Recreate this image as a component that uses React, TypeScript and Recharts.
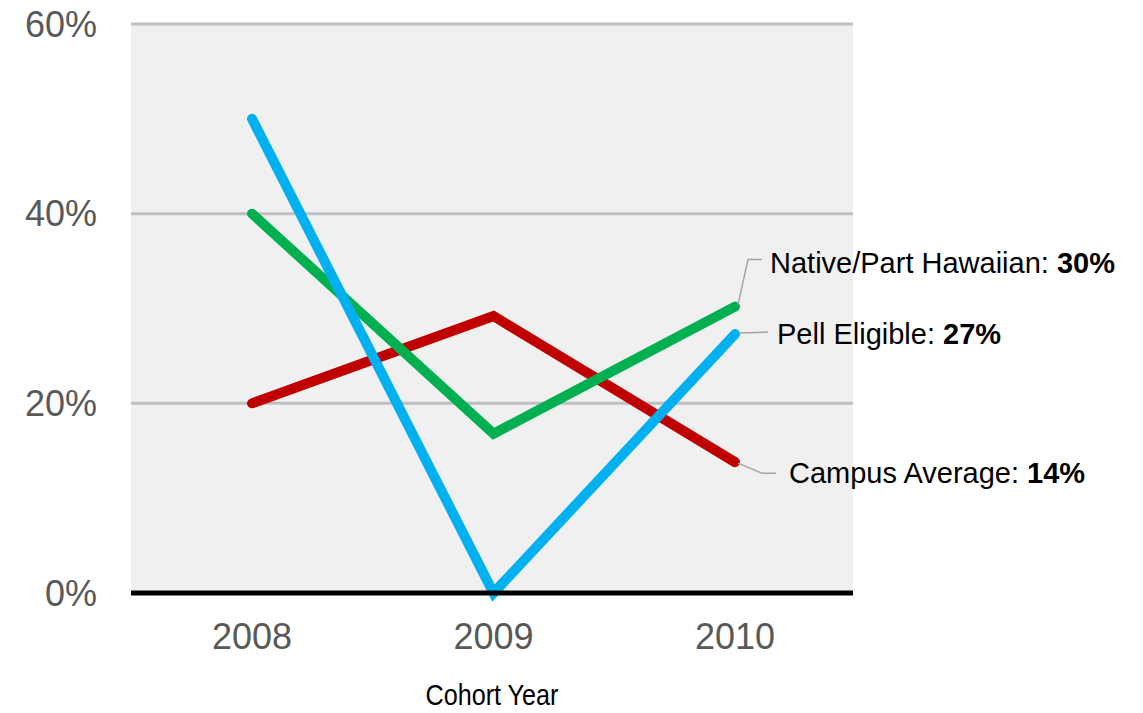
import { LineChart, Line, XAxis, YAxis, CartesianGrid } from 'recharts'

const years = ['2008', '2009', '2010']
const campusAverage = [20, 29.2, 13.8]
const nativeHawaiian = [40, 16.8, 30.2]
const pellEligible = [50, 0, 27.3]
const yTicks = [0, 20, 40, 60]

const data = years.map((year, i) => ({
  year,
  campus: campusAverage[i],
  native: nativeHawaiian[i],
  pell: pellEligible[i],
}))

const FONT = "'Liberation Sans', Arial, sans-serif"

// end-of-line callouts: text offset from last point + leader line path (relative)
const CALLOUTS: Record<string, { name: string; dx: number; dy: number; leader: [number, number][] }> = {
  native: { name: 'Native/Part Hawaiian', dx: 35, dy: -44, leader: [[3, -2], [13, -47], [27, -47]] },
  pell:   { name: 'Pell Eligible',        dx: 42, dy: 0,   leader: [[5, -1], [33, -2]] },
  campus: { name: 'Campus Average',       dx: 54, dy: 11,  leader: [[3, 1], [27, 11], [41, 11]] },
}

function callout(key: string) {
  return (props: any) => {
    const { x, y, index, value } = props
    if (index !== years.length - 1) return <g key={`${key}-${index}`} />
    const c = CALLOUTS[key]
    const pts = c.leader.map(([a, b]) => `${x + a},${y + b}`).join(' ')
    return (
      <g key={`${key}-${index}`}>
        <polyline points={pts} fill="none" stroke="#a6a6a6" strokeWidth={1.5} />
        <text x={x + c.dx} y={y + c.dy} dominantBaseline="central" fontSize={29} fontFamily={FONT} fill="#000">
          {c.name}: <tspan fontWeight="bold">{Math.round(value)}%</tspan>
        </text>
      </g>
    )
  }
}

// axis title drawn slightly condensed, like the original's narrow face
function AxisTitle(props: any) {
  const { viewBox } = props
  const cx = viewBox.x + viewBox.width / 2
  return (
    <text
      transform={`translate(${cx}, 695) scale(0.84, 1)`}
      textAnchor="middle"
      dominantBaseline="central"
      fontSize={30}
      fontFamily={FONT}
      fill="#000"
    >
      Cohort Year
    </text>
  )
}

export default function App() {
  return (
    <div style={{ position: 'absolute', left: 0, top: 0, width: 1143, height: 713, background: '#fff' }}>
      <LineChart width={1143} height={713} data={data} margin={{ top: 24, right: 290, bottom: 0, left: 0 }}>
        <CartesianGrid vertical={false} fill="#f0f0f0" stroke="#bfbfbf" strokeWidth={3} />
        <XAxis
          dataKey="year"
          height={120}
          padding={{ left: 121, right: 118 }}
          axisLine={{ stroke: '#000', strokeWidth: 5 }}
          tickLine={false}
          tickMargin={24}
          tick={{ fontSize: 36, fill: '#595959', fontFamily: FONT }}
          label={<AxisTitle />}
        />
        <YAxis
          width={131}
          domain={[0, 60]}
          ticks={yTicks}
          tickFormatter={(v) => `${v}%`}
          axisLine={false}
          tickLine={false}
          tickMargin={28}
          tick={{ fontSize: 36, fill: '#595959', fontFamily: FONT }}
        />
        <Line dataKey="campus" stroke="#c00000" strokeWidth={10} strokeLinecap="round" dot={false} isAnimationActive={false} label={callout('campus')} />
        <Line dataKey="native" stroke="#00b050" strokeWidth={10} strokeLinecap="round" dot={false} isAnimationActive={false} label={callout('native')} />
        <Line dataKey="pell" stroke="#00b0f0" strokeWidth={10} strokeLinecap="round" dot={false} isAnimationActive={false} label={callout('pell')} />
      </LineChart>
    </div>
  )
}
